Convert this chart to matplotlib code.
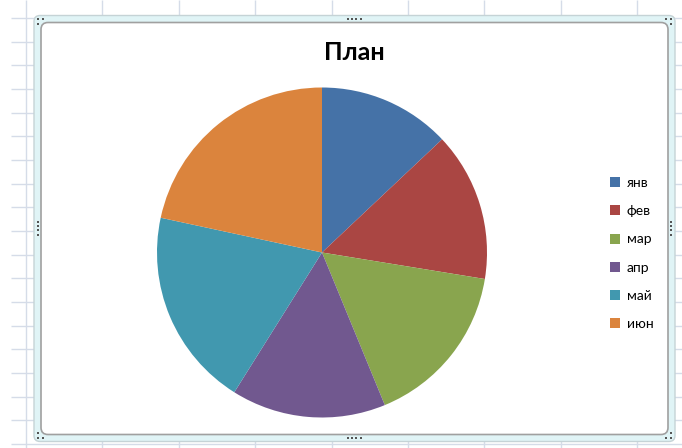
import matplotlib.pyplot as plt
from matplotlib.patches import FancyBboxPatch, Patch

# chart data
months = ["янв", "фев", "мар", "апр", "май", "июн"]
plan = [120, 135, 150, 140, 180, 200]
colors = ["#4572A7", "#AA4643", "#89A54E", "#71588F", "#4198AF", "#DB843D"]
title = "План"

W, H = 682, 448
fig = plt.figure(figsize=(W / 100, H / 100), dpi=100)
plt.rcParams['font.family'] = ['Lato', 'DejaVu Sans']

# spreadsheet background in pixel coords
bg = fig.add_axes([0, 0, 1, 1])
bg.set_xlim(0, W)
bg.set_ylim(H, 0)
bg.axis("off")
grid_col = "#D5DCE8"
for k in range(19):
    bg.hlines(17.9 + 23.68 * k, 11, W, color=grid_col, lw=1, zorder=1)
for k in range(9):
    bg.vlines(26 + 76.4 * k, 0, H, color=grid_col, lw=1, zorder=1)

# chart frame
bg.add_patch(FancyBboxPatch((34, 15.5), 641, 426, boxstyle="round,pad=0,rounding_size=6",
                            fc="#E0F4F6", ec="#C5D3D6", lw=1, zorder=3))
bg.add_patch(FancyBboxPatch((41, 22.5), 627, 412, boxstyle="round,pad=0,rounding_size=7",
                            fc="white", ec="#A0A0A0", lw=1.2, zorder=4))

# selection handles
dots = [(37.5, 19), (42.5, 19), (37.5, 24.5),
        (666, 19), (671, 19), (671, 24.5),
        (37.5, 433), (37.5, 438), (42.5, 438),
        (671, 433), (671, 438), (666, 438)]
for i in range(4):
    dots += [(348 + 4.2 * i, 19), (348 + 4.2 * i, 438), (37.5, 222 + 4.2 * i), (671, 222 + 4.2 * i)]
bg.scatter([d[0] for d in dots], [d[1] for d in dots], s=2.2, marker="s", c="#555555", lw=0, zorder=5)

# pie
cx, cy, r = 322, 252.5, 165
ax = fig.add_axes([(cx - r) / W, (H - cy - r) / H, 2 * r / W, 2 * r / H])
ax.pie(plan, colors=colors, startangle=90, counterclock=False, radius=1,
       wedgeprops=dict(lw=0))
ax.set_xlim(-1, 1)
ax.set_ylim(-1, 1)
ax.set_aspect("equal")
ax.axis("off")

fig.text(354 / W, 1 - 52 / H, title, ha="center", va="center",
         fontsize=18, fontweight="bold", color="black")

handles = [Patch(facecolor=c, edgecolor="none") for c in colors]
fig.legend(handles, months, loc="upper left", bbox_to_anchor=(603 / W, 1 - 170 / H),
           frameon=False, fontsize=10, handlelength=0.75, handleheight=0.75,
           handletextpad=0.45, labelspacing=1.17, borderpad=0)

fig.savefig("out.png", dpi=100)
